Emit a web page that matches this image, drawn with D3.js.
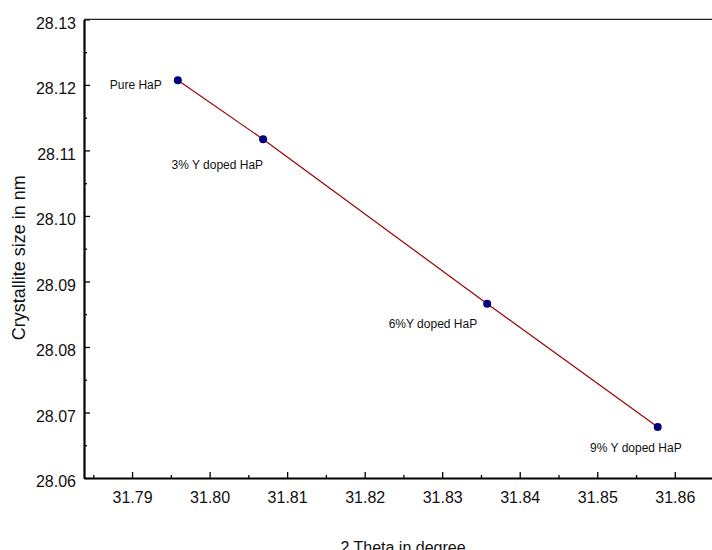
<!DOCTYPE html>
<html>
<head>
<meta charset="utf-8">
<script src="https://cdn.jsdelivr.net/npm/d3@7"></script>
<style>
  body { margin: 0; background: #fff; }
  svg { font-family: "Liberation Sans", Arial, sans-serif; display: block; }
  .axis .domain { stroke: #000; stroke-width: 2.2px; }
  .axis line { stroke: #000; stroke-width: 1.3px; }
  .axis text { font-size: 16px; fill: #111; font-family: "Liberation Sans", Arial, sans-serif; }
  .pointLabel { font-size: 12px; fill: #111; }
</style>
</head>
<body>
<div class="chart"></div>
<script>
// sample names, 2 theta (degree), crystallite size (nm)
const samples = ["Pure HaP", "3% Y doped HaP", "6%Y doped HaP", "9% Y doped HaP"];
const theta = [31.7959, 31.8069, 31.8358, 31.8578];
const sizes = [28.1207, 28.1117, 28.0866, 28.0678];

const xTicks = [31.79, 31.80, 31.81, 31.82, 31.83, 31.84, 31.85, 31.86];
const yTicks = [28.06, 28.07, 28.08, 28.09, 28.10, 28.11, 28.12, 28.13];
const xMinor = [31.785, 31.795, 31.805, 31.815, 31.825, 31.835, 31.845, 31.855];
const yMinor = [28.065, 28.075, 28.085, 28.095, 28.105, 28.115, 28.125];

// label offsets from each point, in pixels
const labelDx = [-16, 0, -10, 24];
const labelDy = [9, 30, 24, 25];

const width = 712, height = 550;

const svg = d3.select(".chart").append("svg")
  .attr("width", width)
  .attr("height", height);

const xScale = d3.scaleLinear()
  .domain([31.7838, 31.8648])
  .range([84, 712]);

const yScale = d3.scaleLinear()
  .domain([28.06, 28.13])
  .range([478, 19.4]);

const fmt = d3.format(".2f");

// minor ticks
svg.append("g")
  .attr("class", "axis")
  .attr("transform", "translate(84,0)")
  .call(d3.axisLeft(yScale).tickValues(yMinor).tickSize(-3).tickSizeOuter(0).tickFormat(""))
  .select(".domain").remove();

svg.append("g")
  .attr("class", "axis")
  .attr("transform", "translate(0,478)")
  .call(d3.axisBottom(xScale).tickValues(xMinor).tickSize(-3).tickSizeOuter(0).tickFormat(""))
  .select(".domain").remove();

// major axes
const yAxis = svg.append("g")
  .attr("class", "axis")
  .attr("transform", "translate(84,0)")
  .call(d3.axisLeft(yScale).tickValues(yTicks).tickSize(-6).tickSizeOuter(0).tickPadding(8).tickFormat(fmt));
yAxis.selectAll("text").attr("dy", "0.55em");

svg.append("g")
  .attr("class", "axis")
  .attr("transform", "translate(0,478)")
  .call(d3.axisBottom(xScale).tickValues(xTicks).tickSize(-6).tickSizeOuter(0).tickPadding(14).tickFormat(fmt));

// top frame line
svg.append("line")
  .attr("x1", xScale.range()[0])
  .attr("x2", xScale.range()[1])
  .attr("y1", yScale(28.13))
  .attr("y2", yScale(28.13))
  .attr("stroke", "#222")
  .attr("stroke-width", 1.4);

// axis titles
svg.append("text")
  .attr("transform", "translate(25," + ((yScale.range()[0] + yScale.range()[1]) / 2 + 9) + ") rotate(-90)")
  .attr("text-anchor", "middle")
  .attr("font-size", "18px")
  .attr("fill", "#111")
  .text("Crystallite size in nm");

svg.append("text")
  .attr("x", 403)
  .attr("y", 553)
  .attr("text-anchor", "middle")
  .attr("font-size", "16px")
  .attr("fill", "#111")
  .text("2 Theta in degree");

const data = samples.map((s, i) => ({ name: s, x: theta[i], y: sizes[i], dx: labelDx[i], dy: labelDy[i] }));

const line = d3.line()
  .x(d => xScale(d.x))
  .y(d => yScale(d.y));

svg.append("path")
  .datum(data)
  .attr("d", line)
  .attr("fill", "none")
  .attr("stroke", "#990000")
  .attr("stroke-width", 1.2);

svg.selectAll(".dot")
  .data(data)
  .enter()
  .append("circle")
  .attr("class", "dot")
  .attr("cx", d => xScale(d.x))
  .attr("cy", d => yScale(d.y))
  .attr("r", 4)
  .attr("fill", "#000080");

svg.selectAll(".pointLabel")
  .data(data)
  .enter()
  .append("text")
  .attr("class", "pointLabel")
  .attr("text-anchor", "end")
  .attr("x", d => xScale(d.x) + d.dx)
  .attr("y", d => yScale(d.y) + d.dy)
  .text(d => d.name);
</script>
</body>
</html>
